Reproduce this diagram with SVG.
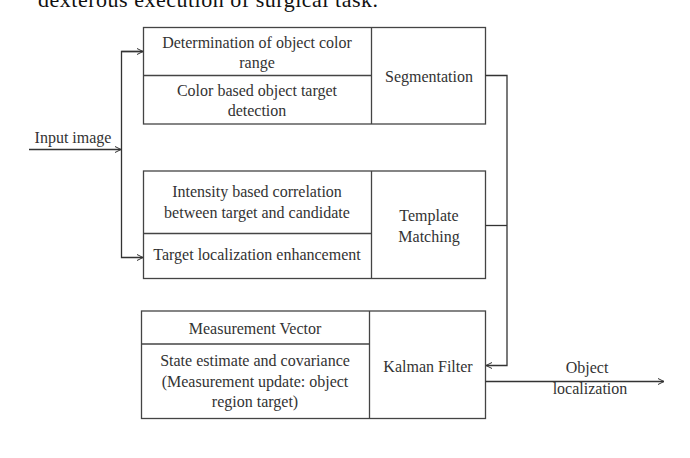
<svg xmlns="http://www.w3.org/2000/svg" width="690" height="458" viewBox="0 0 690 458">
<defs>
<marker id="ah" markerWidth="8" markerHeight="8" refX="7" refY="4" orient="auto" markerUnits="userSpaceOnUse">
<path d="M1,1 L7,4 L1,7" fill="none" stroke="#333" stroke-width="1"/>
</marker>
<style>
.box{fill:#fff;stroke:#444;stroke-width:1.3}
.ln{fill:none;stroke:#444;stroke-width:1.3}
.c{fill:none;stroke:#333;stroke-width:1.3}
text{font-family:"Liberation Serif","Times New Roman",serif;font-size:16px;fill:#333;text-anchor:middle}
.hd{font-size:22px;fill:#111;text-anchor:start}
</style>
</defs>
<rect width="690" height="458" fill="#fff"/>
<text class="hd" x="38" y="7" textLength="340">dexterous execution of surgical task.</text>

<g id="segmentation">
<rect class="box" x="143.5" y="27.5" width="342" height="96.5"/>
<line class="ln" x1="371.5" y1="27.5" x2="371.5" y2="124"/>
<line class="ln" x1="143.5" y1="75.5" x2="371.5" y2="75.5"/>
<text x="257" y="48">Determination of object color</text>
<text x="257" y="68">range</text>
<text x="257" y="96">Color based object target</text>
<text x="257" y="116">detection</text>
<text x="429" y="82">Segmentation</text>
</g>

<g id="template-matching">
<rect class="box" x="143.5" y="171" width="342" height="107.5"/>
<line class="ln" x1="371.5" y1="171" x2="371.5" y2="278.5"/>
<line class="ln" x1="143.5" y1="233.5" x2="371.5" y2="233.5"/>
<text x="257" y="197">Intensity based correlation</text>
<text x="257" y="218">between target and candidate</text>
<text x="257" y="260">Target localization enhancement</text>
<text x="429" y="221">Template</text>
<text x="429" y="242">Matching</text>
</g>

<g id="kalman-filter">
<rect class="box" x="141.5" y="311" width="344" height="107.5"/>
<line class="ln" x1="369.5" y1="311" x2="369.5" y2="418.5"/>
<line class="ln" x1="141.5" y1="344" x2="369.5" y2="344"/>
<text x="255" y="334">Measurement Vector</text>
<text x="255" y="366">State estimate and covariance</text>
<text x="255" y="387">(Measurement update: object</text>
<text x="255" y="407">region target)</text>
<text x="428" y="372">Kalman Filter</text>
</g>

<g id="labels">
<text x="73" y="143">Input image</text>
<text x="587" y="373">Object</text>
<text x="590" y="394">localization</text>
</g>

<g id="connectors">
<path class="c" d="M29,149.5 H121" marker-end="url(#ah)"/>
<path class="c" d="M143,51.5 H121.5 V257.5 H143" marker-end="url(#ah)"/>
<path class="c" d="M121.5,51.5 H143" marker-end="url(#ah)"/>
<path class="c" d="M485.5,75.5 H507 V365.5 H486" marker-end="url(#ah)"/>
<path class="c" d="M485.5,225.5 H507"/>
<path class="c" d="M485.5,381.5 H664" marker-end="url(#ah)"/>
</g>
</svg>
